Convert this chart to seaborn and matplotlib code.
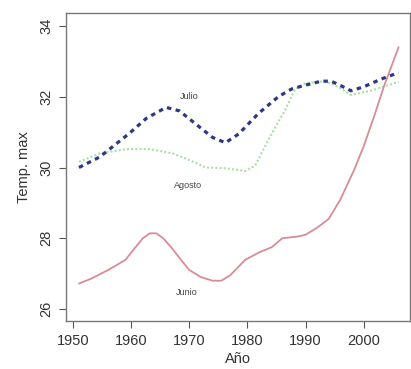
# %%
import pandas as pd
import numpy as np
import seaborn as sns
import matplotlib
matplotlib.use("Agg")
import matplotlib.pyplot as plt

# %% valores
anio_junio = [1951, 1953, 1956, 1959, 1960.5, 1962, 1963.2, 1964.3, 1965.5, 1967, 1968.5, 1970,
              1972, 1974, 1975.5, 1977, 1978.5, 1979.6, 1982, 1984.2, 1986, 1988.7, 1990, 1992,
              1994, 1996, 1998.4, 2000, 2001.8, 2003.5, 2006]
temp_junio = [26.72, 26.85, 27.1, 27.39, 27.7, 28.0, 28.14, 28.14, 28.0, 27.72, 27.4, 27.1,
              26.9, 26.8, 26.8, 26.95, 27.2, 27.39, 27.6, 27.75, 28.0, 28.05, 28.1, 28.3,
              28.55, 29.1, 29.95, 30.6, 31.45, 32.3, 33.4]

anio_julio = [1951, 1954.6, 1959.7, 1962.6, 1966, 1968.3, 1971.7, 1974, 1976.2, 1978.5, 1981.9,
              1985.3, 1987.6, 1990, 1992.7, 1994.4, 1996, 1997.8, 2000, 2003, 2006]
temp_julio = [30.0, 30.3, 30.97, 31.39, 31.7, 31.6, 31.15, 30.85, 30.7, 30.95, 31.53,
              32.0, 32.22, 32.33, 32.44, 32.44, 32.32, 32.17, 32.28, 32.5, 32.68]

anio_agosto = [1951, 1954.6, 1959.2, 1963.1, 1967.1, 1970, 1972.8, 1976.2, 1979.6, 1981.3, 1984.2,
               1986.5, 1988.2, 1990, 1993.3, 1995.6, 1997.8, 2001.2, 2006]
temp_agosto = [30.16, 30.4, 30.52, 30.52, 30.4, 30.21, 30.0, 29.98, 29.9, 30.05, 30.97,
               31.63, 32.22, 32.38, 32.44, 32.28, 32.05, 32.17, 32.42]

xticks = [1950, 1960, 1970, 1980, 1990, 2000]
yticks = [26, 28, 30, 32, 34]

# %%
df = pd.concat([
    pd.DataFrame({'anio': anio_junio, 'temp': temp_junio, 'mes': 'Junio'}),
    pd.DataFrame({'anio': anio_julio, 'temp': temp_julio, 'mes': 'Julio'}),
    pd.DataFrame({'anio': anio_agosto, 'temp': temp_agosto, 'mes': 'Agosto'}),
], ignore_index=True)

sns.set_style('white')
plt.rcParams['font.family'] = ['Liberation Sans', 'DejaVu Sans']

fig = plt.figure(figsize=(4.11, 3.69), dpi=100)
ax = fig.add_axes([0.161, 0.130, 0.837, 0.835])

sns.lineplot(data=df[df['mes'] == 'Agosto'], x='anio', y='temp', color='#a8e0a8',
             linewidth=1.5, linestyle=(0, (1, 1)), ax=ax, estimator=None, sort=False)
sns.lineplot(data=df[df['mes'] == 'Junio'], x='anio', y='temp', color='#d98c96',
             linewidth=1.3, ax=ax, estimator=None, sort=False)
sns.lineplot(data=df[df['mes'] == 'Julio'], x='anio', y='temp', color='#2f3882',
             linewidth=2.3, linestyle=(0, (1.4, 1.4)), ax=ax, estimator=None, sort=False)

ax.text(1970, 32.0, 'Julio', fontsize=6.5, color='#444444', ha='center', va='center')
ax.text(1969.8, 29.5, 'Agosto', fontsize=6.5, color='#444444', ha='center', va='center')
ax.text(1969.6, 26.46, 'Junio', fontsize=6.5, color='#444444', ha='center', va='center')

ax.set_xlim(1948.8, 2008.0)
ax.set_ylim(25.66, 34.37)
ax.set_xticks(xticks)
ax.set_yticks(yticks)
ax.set_yticklabels([str(t) for t in yticks], rotation=90, va='center')
ax.tick_params(axis='both', direction='out', length=5, width=0.8, colors='#555555',
               labelcolor='#333333', labelsize=10.5, bottom=True, left=True, pad=4)
for s in ax.spines.values():
    s.set_color('#777777')
    s.set_linewidth(1.0)
ax.set_xlabel('Año', fontsize=10.5, color='#333333', labelpad=3)
ax.set_ylabel('Temp. max', fontsize=10.5, color='#333333', labelpad=6)

fig.savefig('out.png', dpi=100)
